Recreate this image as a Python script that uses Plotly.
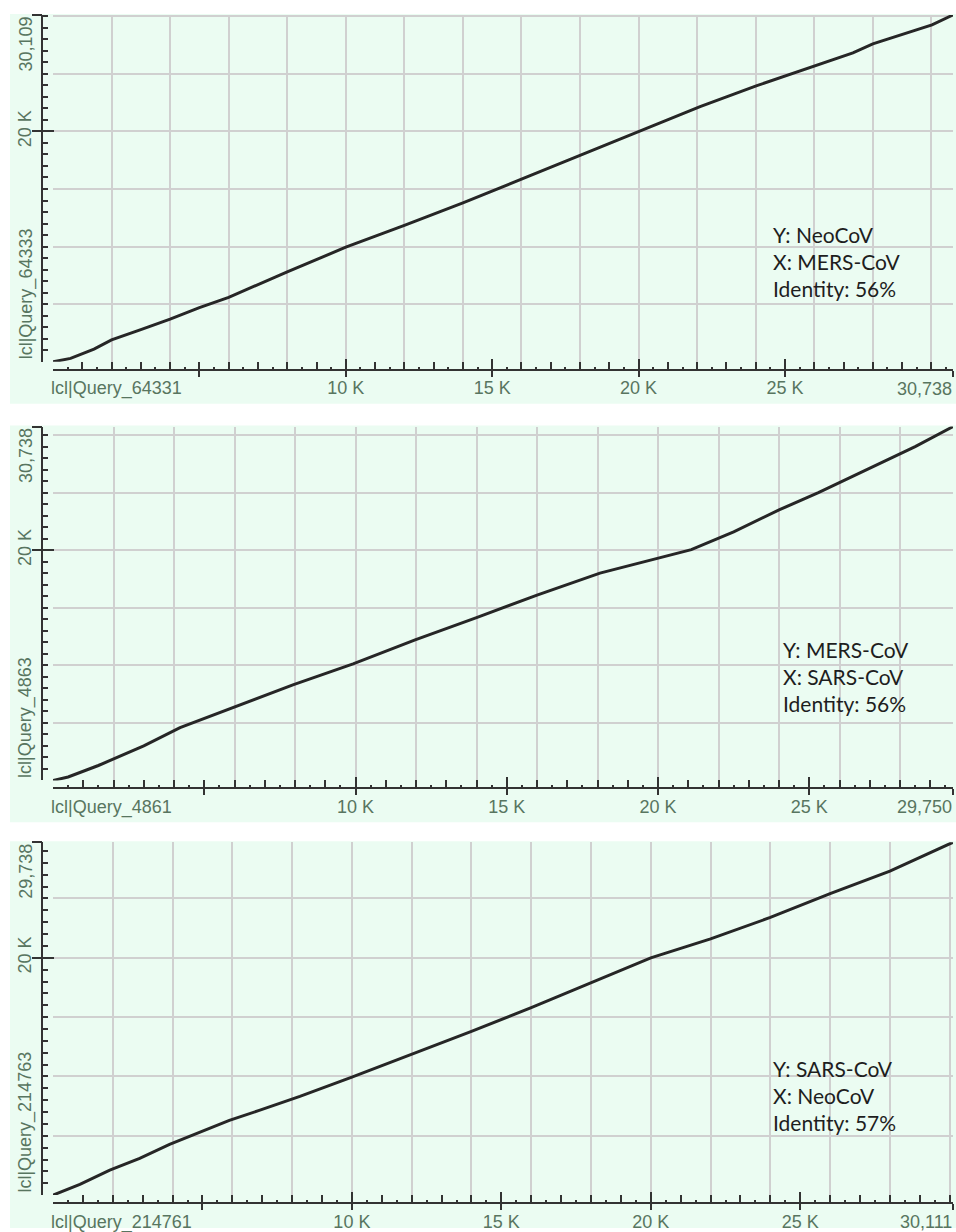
import plotly.graph_objects as go

W, H = 956, 1232

# Sequence lengths (bp) for the three pairwise dot plots
x_lengths = [30738, 29750, 30111]
y_lengths = [30109, 30738, 29738]

x_names = ["lcl|Query_64331", "lcl|Query_4861", "lcl|Query_214761"]
y_names = ["lcl|Query_64333", "lcl|Query_4863", "lcl|Query_214763"]

x_major_labels = ["", "10 K", "15 K", "20 K", "25 K"]
x_major_vals = [5000, 10000, 15000, 20000, 25000]
y_major_vals = [20000]
y_major_labels = ["20 K"]

info_lines = [
    ["Y: NeoCoV", "X: MERS-CoV", "Identity: 56%"],
    ["Y: MERS-CoV", "X: SARS-CoV", "Identity: 56%"],
    ["Y: SARS-CoV", "X: NeoCoV", "Identity: 57%"],
]

# Alignment paths (query position, subject position)
p1_x = [0, 600, 1400, 2000, 3000, 4000, 5000, 6000, 8000, 10000, 12000,
        14000, 16000, 18000, 20000, 22100, 24040, 26020, 27320, 28000,
        30020, 30738]
p1_y = [0, 300, 1100, 1900, 2800, 3700, 4700, 5600, 7800, 9950, 11850,
        13800, 15850, 17900, 20000, 22150, 23970, 25700, 26820, 27600,
        29240, 30109]

p2_x = [0, 500, 1500, 3000, 4200, 5950, 7930, 9920, 11970, 14000, 16000,
        18080, 20000, 21100, 22500, 24000, 25300, 27000, 28500, 29750]
p2_y = [0, 300, 1300, 3000, 4590, 6320, 8310, 10130, 12210, 14150, 16100,
        18010, 19300, 20050, 21600, 23500, 25000, 27100, 29000, 30738]

p3_x = [0, 900, 1900, 2900, 3900, 4900, 5900, 6900, 8260, 10000, 12000,
        14000, 16000, 18000, 20000, 22000, 24000, 26000, 28000, 30111]
p3_y = [0, 900, 2100, 3100, 4280, 5290, 6300, 7140, 8320, 9950, 11850,
        13800, 15800, 17900, 20000, 21600, 23400, 25400, 27300, 29738]

paths = [(p1_x, p1_y), (p2_x, p2_y), (p3_x, p3_y)]

# Page geometry (pixels)
PLOT_L, PLOT_R = 53, 953
TOPS = [15, 428, 845]
BOTS = [363, 783, 1199]
YAXIS_X = 42
XAXIS_OFF = 8
XLABEL_OFF = 24
YLABEL_X = 26
INFO_X = [773, 783, 773]
INFO_Y = [235, 652, 1072]
INFO_STEP = 27

MINT = "#EBFCF2"
GRID = "#D0D0D0"
AXIS = "#333333"
LABEL = "#587560"
TRACE = "#262626"
TICK_FONT = dict(family="Liberation Sans, Arial, sans-serif", size=18, color=LABEL)
INFO_FONT = dict(family="Lato, Open Sans, sans-serif", size=21, color="#1E1E1E")


def fx(px):
    return px / W


def fy(py):
    return 1 - py / H


def axname(letter, n):
    return f"{letter}axis" if n == 1 else f"{letter}axis{n}"


def axref(letter, n):
    return letter if n == 1 else f"{letter}{n}"


fig = go.Figure()
layout = dict(
    width=W, height=H,
    margin=dict(l=0, r=0, t=0, b=0),
    paper_bgcolor="white",
    plot_bgcolor="rgba(0,0,0,0)",
    showlegend=False,
)
shapes = []
annotations = []

for i in range(3):
    g, t, o = 3 * i + 1, 3 * i + 2, 3 * i + 3
    xl, yl = x_lengths[i], y_lengths[i]
    top, bot = TOPS[i], BOTS[i]
    dom_x = [fx(PLOT_L), fx(PLOT_R)]
    dom_y = [fy(bot), fy(top)]

    # panel background
    shapes.append(dict(
        type="rect", xref="paper", yref="paper", layer="below",
        x0=fx(10), x1=1, y0=fy(min(bot + 42, H)), y1=fy(top - 1),
        fillcolor=MINT, line=dict(width=0),
    ))

    common = dict(range=[0, xl], fixedrange=True, zeroline=False)
    common_y = dict(range=[0, yl], fixedrange=True, zeroline=False)

    # grid axes
    layout[axname("x", g)] = dict(
        domain=dom_x, anchor=axref("y", g), **common,
        tickmode="array", tickvals=list(range(0, xl, 2000)),
        showgrid=True, gridcolor=GRID, gridwidth=1.5,
        showticklabels=False, ticks="", showline=False,
    )
    layout[axname("y", g)] = dict(
        domain=dom_y, anchor=axref("x", g), **common_y,
        tickmode="array", tickvals=list(range(0, yl, 5000)) + [yl],
        showgrid=True, gridcolor=GRID, gridwidth=1.5,
        showticklabels=False, ticks="", showline=False,
    )

    xt_vals = x_major_vals + [xl]
    yt_vals = y_major_vals + [yl]

    # axes carrying the inward ticks and the labels
    layout[axname("x", t)] = dict(
        overlaying=axref("x", g), anchor="free", position=fy(bot + XAXIS_OFF),
        side="bottom", **common,
        showline=True, linecolor=AXIS, linewidth=2,
        ticks="inside", ticklen=10, tickwidth=2, tickcolor=AXIS,
        tickmode="array", tickvals=xt_vals, ticktext=x_major_labels + [""],
        tickfont=TICK_FONT, ticklabelstandoff=2, showgrid=False,
        minor=dict(ticks="inside", ticklen=7, tickwidth=2, tickcolor=AXIS,
                   tickmode="array",
                   tickvals=list(range(1000, xl + 1, 1000)), showgrid=False),
    )
    layout[axname("y", t)] = dict(
        overlaying=axref("y", g), anchor="free", position=fx(YAXIS_X),
        side="left", **common_y,
        showline=True, linecolor=AXIS, linewidth=2,
        ticks="inside", ticklen=11, tickwidth=2, tickcolor=AXIS,
        tickmode="array", tickvals=yt_vals, ticktext=y_major_labels + [""],
        tickangle=-90, tickfont=TICK_FONT, ticklabelstandoff=3, showgrid=False,
        minor=dict(ticks="inside", ticklen=5, tickwidth=2, tickcolor=AXIS,
                   tickmode="array",
                   tickvals=list(range(1000, yl + 1, 1000)), showgrid=False),
    )

    # axes carrying the outward half of the major ticks and the half-kb ticks
    layout[axname("x", o)] = dict(
        overlaying=axref("x", g), anchor="free", position=fy(bot + XAXIS_OFF),
        side="bottom", **common,
        showline=False, ticks="outside", ticklen=6, tickwidth=2, tickcolor=AXIS,
        tickmode="array", tickvals=xt_vals, showticklabels=False, showgrid=False,
        minor=dict(ticks="inside", ticklen=3, tickwidth=2, tickcolor=AXIS,
                   tickmode="array",
                   tickvals=list(range(500, xl + 1, 1000)), showgrid=False),
    )
    layout[axname("y", o)] = dict(
        overlaying=axref("y", g), anchor="free", position=fx(YAXIS_X),
        side="left", **common_y,
        showline=False, ticks="outside", ticklen=10, tickwidth=2, tickcolor=AXIS,
        tickmode="array", tickvals=yt_vals, showticklabels=False, showgrid=False,
    )

    # alignment trace
    px_, py_ = paths[i]
    fig.add_trace(go.Scatter(
        x=px_, y=py_, mode="lines", xaxis=axref("x", g), yaxis=axref("y", g),
        line=dict(color=TRACE, width=3), hoverinfo="skip",
    ))
    for n in (t, o):
        fig.add_trace(go.Scatter(x=[], y=[], xaxis=axref("x", n), yaxis=axref("y", n),
                                 hoverinfo="skip"))

    # end labels of the axes
    label_y = fy(bot + XLABEL_OFF)
    annotations.append(dict(text=x_names[i], xref=axref("x", g), x=0, xanchor="left",
                            xshift=-4, yref="paper", y=label_y, yanchor="middle",
                            yshift=-3, showarrow=False, font=TICK_FONT))
    annotations.append(dict(text=f"{xl:,}", xref=axref("x", g), x=xl, xanchor="right",
                            xshift=1, yref="paper", y=label_y, yanchor="middle",
                            yshift=-3, showarrow=False, font=TICK_FONT))
    annotations.append(dict(text=y_names[i], xref="paper", x=fx(YLABEL_X), xanchor="center",
                            yref=axref("y", g), y=0, yanchor="bottom", textangle=-90,
                            showarrow=False, font=TICK_FONT))
    annotations.append(dict(text=f"{yl:,}", xref="paper", x=fx(YLABEL_X), xanchor="center",
                            yref=axref("y", g), y=yl, yanchor="top", textangle=-90,
                            showarrow=False, font=TICK_FONT))

    # sequence / identity note
    for k, line in enumerate(info_lines[i]):
        annotations.append(dict(text=line, xref="paper", x=fx(INFO_X[i]), xanchor="left",
                                xshift=-2, yref="paper", y=fy(INFO_Y[i] + k * INFO_STEP),
                                yanchor="middle", showarrow=False, font=INFO_FONT))

layout["shapes"] = shapes
layout["annotations"] = annotations
fig.update_layout(**layout)
fig.write_html("out.html")
